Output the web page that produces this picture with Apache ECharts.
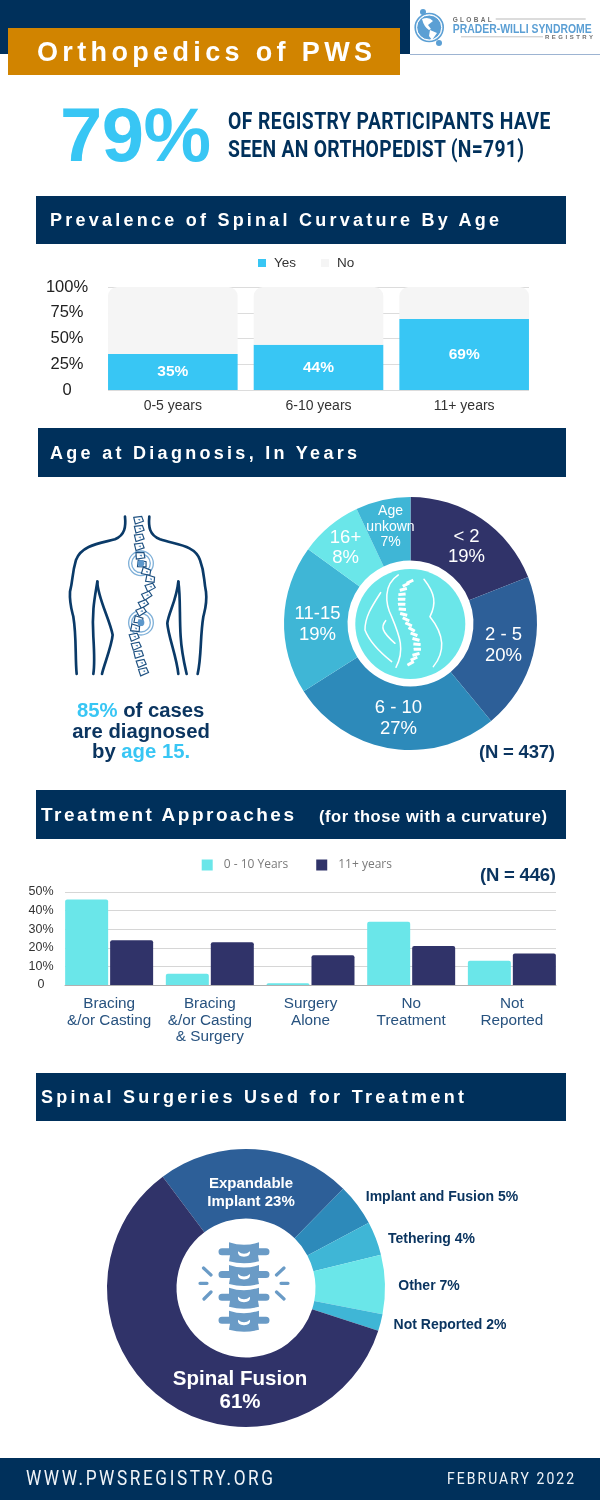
<!DOCTYPE html>
<html><head><meta charset="utf-8">
<script src="https://cdn.jsdelivr.net/npm/echarts@6/dist/echarts.min.js"></script>
<style>
html,body{margin:0;padding:0;background:#fff;width:600px;height:1500px;overflow:hidden}
#page{position:relative;width:600px;height:1500px;overflow:hidden;font-family:"Liberation Sans",Arial,sans-serif}
#boxes{position:absolute;left:0;top:0}
#chart{position:absolute;left:0;top:0;width:600px;height:1500px}
.box{position:absolute}
.t{position:absolute;white-space:nowrap;transform-origin:left center}
svg{position:absolute;left:0;top:0;pointer-events:none}
</style></head><body>
<div id="page">
<div id="boxes"></div>
<div id="chart"></div>
<svg id="art" width="600" height="1500" viewBox="0 0 600 1500"></svg>
</div>
<script>
// ---------- data ----------
const ageCategories = ['0-5 years', '6-10 years', '11+ years'];
const curvatureYes = [35, 44, 69];
const curvatureNo = [65, 56, 31];

const diagnosisNames = ['< 2', '2 - 5', '6 - 10', '11-15', '16+', 'Age\nunkown'];
const diagnosisValues = [19, 20, 27, 19, 8, 7];

const treatmentCategories = ['Bracing\n&/or Casting', 'Bracing\n&/or Casting\n& Surgery', 'Surgery\nAlone', 'No\nTreatment', 'Not\nReported'];
const treatmentYoung = [46, 6, 1, 34, 13];
const treatmentOld = [24, 23, 16, 21, 17];

const surgeryNames = ['Expandable\nImplant', 'Implant and Fusion', 'Tethering', 'Other', 'Not Reported', 'Spinal Fusion\n'];
const surgeryValues = [23, 5, 4, 7, 2, 61];

// ---------- palette & label placement ----------
const NAVY = '#00305b', CYAN = '#38c6f4', AQUA = '#6ae6e9';
const INDIGO = '#303369', BLUE = '#2d5f98', MID = '#2d8aba', SKY = '#3fb6d6';
const diagnosisColors = [INDIGO, BLUE, MID, SKY, AQUA, SKY];
const diagnosisLabelAt = [[466.5, 547], [503.5, 645.5], [398.5, 718.5], [317.5, 624.5], [345.5, 548], [390.5, 527]];
const surgeryColors = [BLUE, MID, SKY, AQUA, SKY, INDIGO];
const surgeryLabelAt = [[251, 1193], [442, 1197], [431.5, 1239], [429, 1286], [450, 1325], [240, 1391]];
const surgeryLabelStyle = [
  {color: '#fff', fontSize: 15, lineHeight: 18}, {color: '#0b3560', fontSize: 14}, {color: '#0b3560', fontSize: 14},
  {color: '#0b3560', fontSize: 14}, {color: '#0b3560', fontSize: 14}, {color: '#fff', fontSize: 20.5, lineHeight: 23}];

// ---------- chart ----------
const chart = echarts.init(document.getElementById('chart'), null, {width: 600, height: 1500});
const FONT = '"Liberation Sans", Arial, sans-serif';
chart.setOption({
  animation: false,
  textStyle: {fontFamily: FONT},
  legend: [
    {data: ['Yes', 'No'], left: 258, top: 256, padding: 0, itemWidth: 8, itemHeight: 8, itemGap: 25, icon: 'rect',
     textStyle: {fontSize: 13.5, color: '#333', padding: [0, 0, 0, 3], fontFamily: FONT}, selectedMode: false},
    {data: ['0 - 10 Years', '11+ years'], left: 201.7, top: 859, padding: 0, itemWidth: 11, itemHeight: 11, itemGap: 28, icon: 'rect',
     textStyle: {fontSize: 12, color: '#7a7a7a', padding: [0, 0, 0, 6], fontFamily: '"Open Sans", sans-serif'}, selectedMode: false}
  ],
  grid: [
    {left: 100, top: 287, width: 437, height: 103},
    {left: 108, top: 287, width: 421, height: 103},
    {left: 58.8, top: 892, width: 503.4, height: 93},
    {left: 65, top: 892, width: 491, height: 93}
  ],
  xAxis: [
    {gridIndex: 0, type: 'category', data: ageCategories, axisLine: {show: false}, axisTick: {show: false},
     axisLabel: {fontSize: 14, color: '#333', margin: 9}},
    {gridIndex: 1, type: 'category', data: ageCategories, show: false},
    {gridIndex: 2, type: 'category', data: treatmentCategories, axisLine: {show: false}, axisTick: {show: false},
     axisLabel: {fontSize: 15.3, color: '#27527f', margin: 11, lineHeight: 16.5, interval: 0}},
    {gridIndex: 3, type: 'category', data: treatmentCategories, axisTick: {show: false}, axisLabel: {show: false},
     axisLine: {show: true, lineStyle: {color: '#b0b0b0', width: 1}}}
  ],
  yAxis: [
    {gridIndex: 0, type: 'value', min: 0, max: 100, show: false},
    {gridIndex: 1, type: 'value', min: 0, max: 100, interval: 25, axisLine: {show: false}, axisTick: {show: false},
     splitLine: {lineStyle: {color: '#dcdcdc', width: 1}},
     axisLabel: {align: 'center', margin: 41, fontSize: 16.5, color: '#222', padding: [4, 0, 0, 0], formatter: v => v === 0 ? '0' : v + '%'}},
    {gridIndex: 2, type: 'value', min: 0, max: 50, show: false},
    {gridIndex: 3, type: 'value', min: 0, max: 50, interval: 10, axisLine: {show: false}, axisTick: {show: false},
     splitLine: {lineStyle: {color: '#d6d6d6', width: 1}},
     axisLabel: {align: 'center', margin: 24, fontSize: 12.5, color: '#333', formatter: v => v === 0 ? '0' : v + '%'}}
  ],
  series: [
    {name: 'Yes', type: 'bar', xAxisIndex: 0, yAxisIndex: 0, stack: 'p', data: curvatureYes, barWidth: 129.6, silent: true,
     itemStyle: {color: CYAN},
     label: {show: true, position: 'inside', formatter: '{c}%', color: '#fff', fontWeight: 'bold', fontSize: 15.5}},
    {name: 'No', type: 'bar', xAxisIndex: 0, yAxisIndex: 0, stack: 'p', data: curvatureNo, barWidth: 129.6, silent: true,
     itemStyle: {color: '#f5f5f5', borderRadius: [9, 9, 0, 0]}},
    {name: '0 - 10 Years', type: 'bar', xAxisIndex: 2, yAxisIndex: 2, data: treatmentYoung, barWidth: 43, barGap: '4.6%', silent: true,
     itemStyle: {color: AQUA, borderRadius: [2, 2, 0, 0]}},
    {name: '11+ years', type: 'bar', xAxisIndex: 2, yAxisIndex: 2, data: treatmentOld, barWidth: 43, barGap: '4.6%', silent: true,
     itemStyle: {color: INDIGO, borderRadius: [2, 2, 0, 0]}},
    {type: 'pie', silent: true, center: [410.5, 623.5], radius: [63, 126.5], startAngle: 90, clockwise: true, avoidLabelOverlap: false,
     data: diagnosisNames.map((n, i) => ({name: n, value: diagnosisValues[i], itemStyle: {color: diagnosisColors[i]},
       label: i === 5 ? {fontSize: 14, lineHeight: 15.5} : {}})),
     label: {show: true, position: 'inside', formatter: '{b}\n{c}%', color: '#fff', fontSize: 18.5, lineHeight: 20.5},
     labelLine: {show: false},
     labelLayout: p => ({x: diagnosisLabelAt[p.dataIndex][0], y: diagnosisLabelAt[p.dataIndex][1], align: 'center', verticalAlign: 'middle'})},
    {type: 'pie', silent: true, center: [246, 1288], radius: [69.5, 139], startAngle: 126.8, clockwise: true, avoidLabelOverlap: false,
     data: surgeryNames.map((n, i) => ({name: n, value: surgeryValues[i], itemStyle: {color: surgeryColors[i]},
       label: surgeryLabelStyle[i]})),
     label: {show: true, position: 'inside', fontWeight: 'bold',
       formatter: p => p.name + (p.name.endsWith('\n') ? '' : ' ') + p.value + '%'},
     labelLine: {show: false},
     labelLayout: p => ({x: surgeryLabelAt[p.dataIndex][0], y: surgeryLabelAt[p.dataIndex][1], align: 'center', verticalAlign: 'middle'})}
  ]
});

// ---------- page furniture ----------
const page = document.getElementById('page');
const boxes = document.getElementById('boxes');
function rect(x, y, w, h, c) {
  const d = document.createElement('div'); d.className = 'box';
  d.style.cssText = `left:${x}px;top:${y}px;width:${w}px;height:${h}px;background:${c}`;
  boxes.appendChild(d);
}
// text placed by left edge + vertical centre; width reached by letter-spacing, optionally on a squeezed glyph
function text(x, cy, w, html, css, sx) {
  const d = document.createElement('div'); d.className = 't';
  d.innerHTML = html;
  d.style.cssText = `left:${x}px;top:${cy - 20}px;height:40px;line-height:40px;${css}`;
  page.appendChild(d);
  const s = sx || 1;
  if (w) {
    const n = d.textContent.length;
    const natural = d.getBoundingClientRect().width;
    d.style.letterSpacing = ((w / s - natural) / (n - 1)) + 'px';
  }
  if (s !== 1) d.style.transform = `scaleX(${s})`;
  return d;
}
rect(0, 0, 409.5, 54, NAVY);
rect(409.5, 53.5, 190.5, 1.2, '#9db4d2');
rect(8, 28, 392, 47, '#d18400');
rect(36, 196, 530, 48, NAVY);
rect(38, 428, 528, 49, NAVY);
rect(36, 790, 530, 48.5, NAVY);
rect(36, 1073, 530, 47.5, NAVY);
rect(0, 1457.5, 600, 42.5, NAVY);

const B = 'font-weight:bold;color:#fff;';
text(37, 52, 335, 'Orthopedics of PWS', B + 'font-size:27px');
text(60, 135, 151, '79%', `font-weight:bold;color:${CYAN};font-size:76px`);
const RC = `font-family:Roboto,sans-serif;font-weight:700;color:${NAVY};font-size:23px;`;
text(227.7, 122, 322.5, 'OF REGISTRY PARTICIPANTS HAVE', RC, .84);
text(227.7, 149.5, 296, 'SEEN AN ORTHOPEDIST (N=791)', RC, .84);
text(50, 220, 449, 'Prevalence of Spinal Curvature By Age', B + 'font-size:18px');
text(50, 452.5, 307, 'Age at Diagnosis, In Years', B + 'font-size:18px');
text(41, 815, 253, 'Treatment Approaches', B + 'font-size:19px');
text(319, 815.5, 228, '(for those with a curvature)', B + 'font-size:16.5px');
text(41, 1097, 423, 'Spinal Surgeries Used for Treatment', B + 'font-size:18px');
const NV = 'font-weight:bold;color:#0b3560;font-size:18.5px;';
text(479, 752, 76, '(N = 437)', NV);
text(480, 875, 76, '(N = 446)', NV);
const CAP = `font-weight:bold;color:#0b3560;font-size:20.3px;`;
const C = s => `<span style="color:${CYAN}">${s}</span>`;
text(77, 710, 0, C('85%') + ' of cases', CAP);
text(72.3, 731, 0, 'are diagnosed', CAP);
text(92, 751, 0, 'by ' + C('age 15.'), CAP);
const FT = 'font-family:Roboto,sans-serif;font-weight:400;color:#f0f4f8;';
text(26, 1478, 247, 'WWW.PWSREGISTRY.ORG', FT + 'font-size:21px', .82);
text(447, 1478, 127, 'FEBRUARY 2022', FT + 'font-size:17px', .82);

// ---------- artwork (decoration only) ----------
const backBones = [[235,30,-5],[237,57,-5],[237,83,-5],[237,110,-5],[240,137,5],[245,162,15],[258,185,25],[270,207,20],[270,232,-15],[260,257,-20],[250,282,-20],[243,305,-20],[235,330,20],[225,355,20],[222,381,-10],[228,408,-10],[235,433,-5],[243,460,-10],[250,485,-10]];
const curveBones = [[210,65,-25],[198,74,-25],[190,88,-15],[186,103,-5],[185,118,0],[185,133,0],[187,148,5],[191,163,15],[198,178,25],[206,193,25],[215,208,30],[222,223,20],[228,238,15],[231,253,5],[232,268,0],[228,283,-15],[222,296,-25],[212,310,-30]];
const vertebraY = [1252.3, 1275, 1297.7, 1320.7];
let art = '';
// scoliosis back
art += `<g transform="translate(60,510) scale(.3333)" fill="none" stroke="#0a3a68" stroke-width="8" stroke-linecap="round">
<path d="M195,20 C198,50 195,75 165,88 C120,100 65,105 48,150 C35,195 40,205 30,245 C28,280 35,300 40,320 C50,380 45,440 50,492"/>
<path d="M112,215 C105,260 95,300 100,380 C103,430 105,460 100,492"/>
<path d="M112,215 C112,260 150,330 158,375 C155,410 130,470 126,492"/>
<path d="M268,20 C265,50 268,75 300,88 C350,105 405,105 420,150 C435,190 430,205 438,245 C442,280 435,300 430,320 C420,380 425,440 413,492"/>
<path d="M355,215 C350,270 325,310 322,340 C325,380 350,440 355,492"/>
<path d="M355,215 C362,260 358,320 362,380 C365,430 375,470 380,492"/>
</g><g transform="translate(60,510) scale(.3333)">`;
for (const [cx, cy] of [[243,160],[243,338]]) {
  art += `<circle cx="${cx}" cy="${cy}" r="37" fill="none" stroke="#7fb0d8" stroke-width="4"/><circle cx="${cx}" cy="${cy}" r="28" fill="#fff" stroke="#7fb0d8" stroke-width="4"/>`;
}
for (const [x, y, r] of backBones) {
  art += `<g transform="translate(${x},${y}) rotate(${r})"><path d="M-13,-9 L11,-10 L15,5 L-10,11 Z" fill="#fff" stroke="#1d5080" stroke-width="3.5"/><path d="M-2,-2 L6,-3 L5,3 Z" fill="#4a82b5"/></g>`;
}
for (const [cx, cy] of [[243,160],[243,338]]) art += `<circle cx="${cx}" cy="${cy}" r="10" fill="#5c97cb"/>`;
art += '</g>';
// badge in first donut
art += `<circle cx="410.3" cy="624" r="55" fill="${AQUA}"/>
<g transform="translate(340,560) scale(.3333)" fill="none" stroke="#fff" stroke-width="4.5" stroke-linecap="round">
<path d="M175,45 C130,75 135,130 155,170 C180,230 195,270 168,322"/>
<path d="M252,58 C285,100 290,130 270,170 C310,220 320,270 280,320"/>
<path d="M122,98 C95,140 75,170 75,210 C90,250 130,285 155,305"/>
<path d="M137,182 C122,200 125,215 165,250"/>`;
for (const [x, y, r] of curveBones) art += `<rect x="-11" y="-4.5" width="22" height="9" rx="1" transform="translate(${x},${y}) rotate(${r})" fill="#fff" stroke="none"/>`;
art += '</g>';
// vertebrae in second donut
const V = '#6a9bc6';
for (const y of vertebraY) {
  art += `<g transform="translate(244,${y})"><path d="M-15,-10 Q0,-5 15,-10 L15,-4 L22,-4 A3.5,3.5 0 0 1 22,3 L14,3 L15,9 Q0,13 -15,9 L-14,3 L-22,3 A3.5,3.5 0 0 1 -22,-4 L-15,-4 Z" fill="${V}"/><path d="M-6,-1 Q0,4 6,-1 Q7,4 0,4.5 Q-7,4 -6,-1 Z" fill="#fff"/></g>`;
}
art += `<g stroke="${V}" stroke-width="3.2" stroke-linecap="round"><path d="M203.5,1268 L211,1275 M200,1283.3 L207,1283.3 M204,1299 L211,1292 M284,1268 L276.5,1275 M281,1283.3 L288,1283.3 M276.5,1292 L284,1299"/></g>`;
// logo
art += `<circle cx="429.2" cy="27.5" r="12.5" fill="#5b9fd4" stroke="#fff" stroke-width="1"/>
<circle cx="429.2" cy="27.5" r="14" fill="none" stroke="#5b9fd4" stroke-width="1.6"/>
<path d="M422,19 Q429,16 433,21 L428,25 L431,29 L429,30 Q424,27 422,19 Z M430,30 L437,33 L432,40 L429,36 Z" fill="#fff"/>
<circle cx="423" cy="12" r="3" fill="#5b9fd4"/><circle cx="439" cy="43" r="3" fill="#5b9fd4"/>
<g font-family="Liberation Sans" font-weight="bold">
<text x="452.7" y="21.5" font-size="6.5" fill="#6f6f6f" textLength="39">GLOBAL</text>
<text x="452.7" y="33" font-size="12.5" fill="#5b9fd4" textLength="139" lengthAdjust="spacingAndGlyphs">PRADER-WILLI SYNDROME</text>
<text x="545" y="39" font-size="6" fill="#6f6f6f" textLength="48">REGISTRY</text></g>
<rect x="495.7" y="18.5" width="90" height="1" fill="#b9b9b9"/><rect x="461" y="36.3" width="82" height="1" fill="#c4c4c4"/>`;
document.getElementById('art').innerHTML = art;
</script>
</body></html>
